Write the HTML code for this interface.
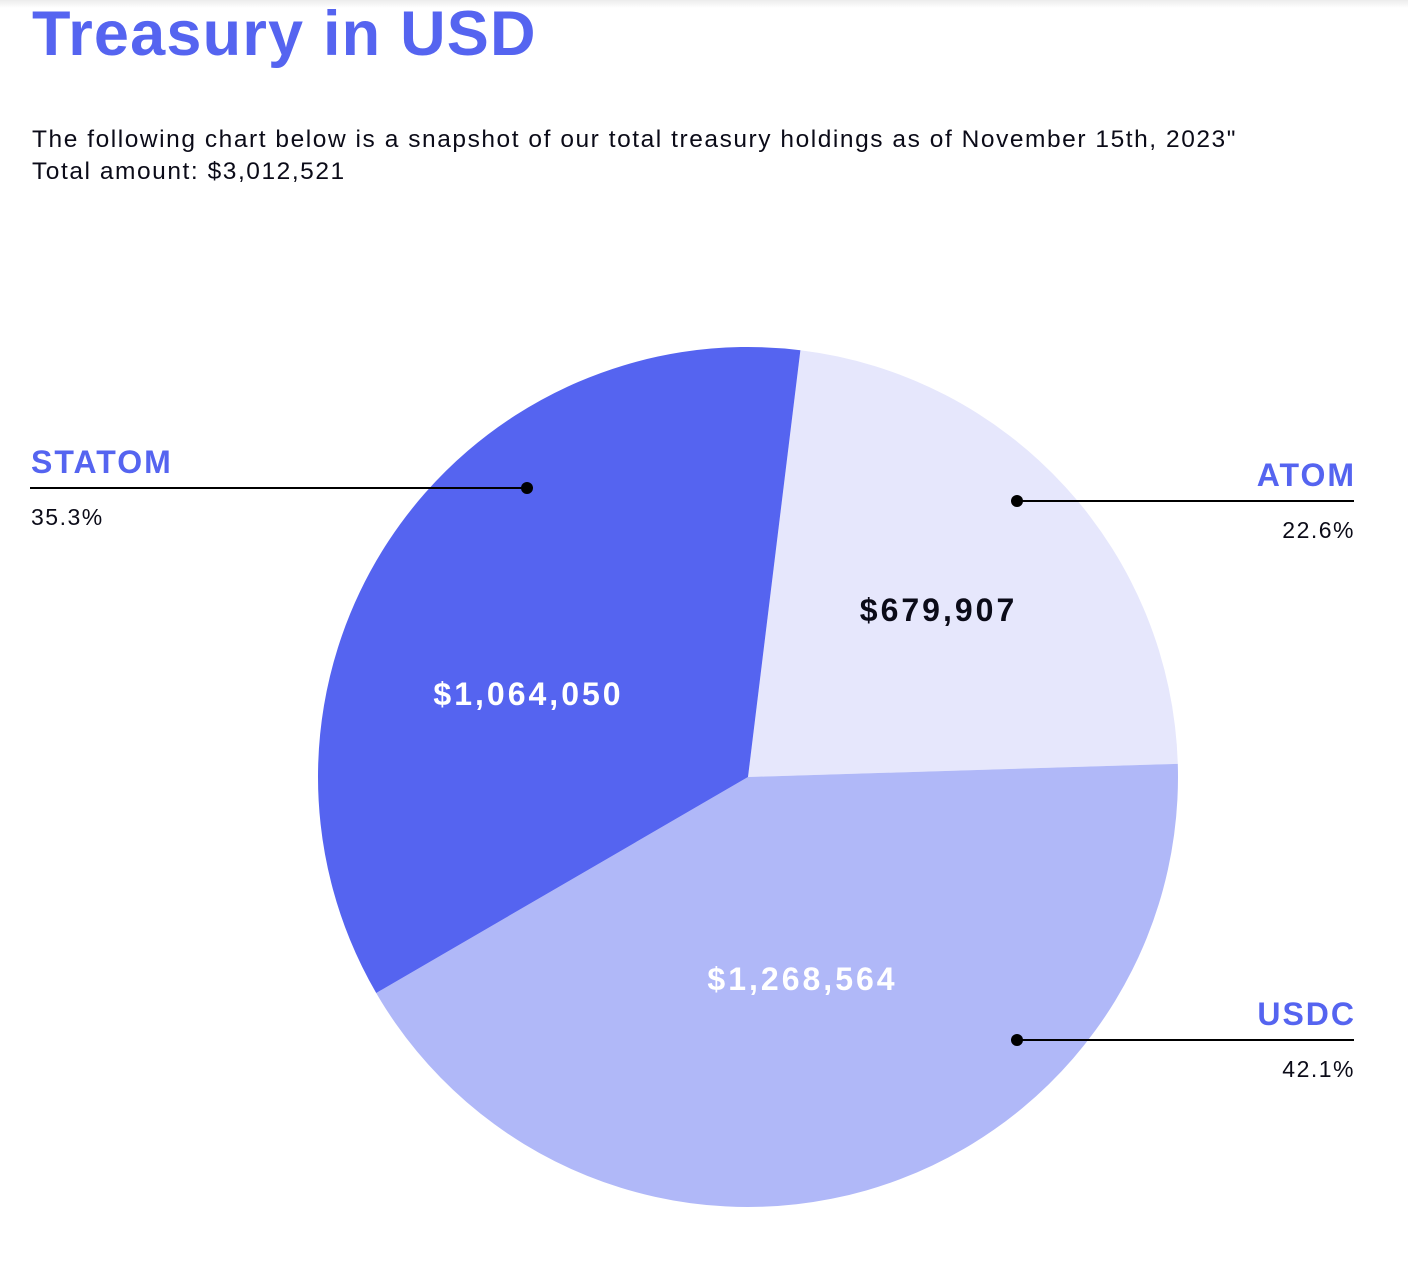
<!DOCTYPE html>
<html><head><meta charset="utf-8"><style>
html,body{margin:0;padding:0;background:#fff;width:1408px;height:1276px;overflow:hidden;font-family:"Liberation Sans",sans-serif}
.topshadow{position:absolute;left:0;top:0;width:1408px;height:8px;background:linear-gradient(#ececec,#fff)}
h1{position:absolute;left:32px;top:-2px;margin:0;font-size:63px;font-weight:bold;color:#5564F0;letter-spacing:1.2px}
.sub{position:absolute;left:32px;top:124px;font-size:24.5px;line-height:32px;color:#0b0b18;letter-spacing:1.55px}
svg{position:absolute;left:0;top:0}
</style></head><body>
<div class="topshadow"></div>
<h1>Treasury in USD</h1>
<div class="sub">The following chart below is a snapshot of our total treasury holdings as of November 15th, 2023"<br>Total amount: $3,012,521</div>
<svg id="chart" width="1408" height="1276"></svg>
<script>
const categories = ["ATOM","USDC","STATOM"];
const values = [679907,1268564,1064050];
const valueLabels = ["$679,907","$1,268,564","$1,064,050"];
const percentLabels = ["22.6%","42.1%","35.3%"];
const colors = ["#E6E7FC","#B0B8F8","#5564F0"];
const labelColors = ["#0b0b18","#ffffff","#ffffff"];
const valuePos = [[937,610],[801,979],[527,694]];
const leaders = [{y:501,dot:1017,x1:1017,x2:1354,side:"right"},{y:1040,dot:1017,x1:1017,x2:1354,side:"right"},{y:488,dot:527,x1:30,x2:527,side:"left"}];
const NS="http://www.w3.org/2000/svg";
const svg=document.getElementById('chart');
const cx=748,cy=777,r=430,startDeg=7;
const total=values.reduce((a,b)=>a+b,0);
function pt(deg,rad){const a=deg*Math.PI/180;return [cx+rad*Math.sin(a),cy-rad*Math.cos(a)];}
let acc=startDeg;
values.forEach((v,i)=>{
  const sweep=v/total*360;
  const [x0,y0]=pt(acc,r),[x1,y1]=pt(acc+sweep,r);
  const p=document.createElementNS(NS,'path');
  p.setAttribute('d',`M${cx},${cy}L${x0},${y0}A${r},${r} 0 ${sweep>180?1:0} 1 ${x1},${y1}Z`);
  p.setAttribute('fill',colors[i]);
  
  
  svg.appendChild(p);
  acc+=sweep;
});
values.forEach((v,i)=>{
  const t=document.createElementNS(NS,'text');
  t.setAttribute('x',valuePos[i][0]+1.5);t.setAttribute('y',valuePos[i][1]+11);
  t.setAttribute('text-anchor','middle');t.setAttribute('font-size','32');t.setAttribute('font-weight','bold');
  t.setAttribute('letter-spacing','3');
  t.setAttribute('fill',labelColors[i]);t.textContent=valueLabels[i];
  
  
  svg.appendChild(t);
  const L=leaders[i];
  const ln=document.createElementNS(NS,'line');
  ln.setAttribute('x1',L.x1);ln.setAttribute('x2',L.x2);ln.setAttribute('y1',L.y);ln.setAttribute('y2',L.y);
  ln.setAttribute('stroke','#000');ln.setAttribute('stroke-width','2');
  
  
  svg.appendChild(ln);
  const c=document.createElementNS(NS,'circle');
  c.setAttribute('cx',L.dot);c.setAttribute('cy',L.y);c.setAttribute('r','6');c.setAttribute('fill','#000');
  
  
  svg.appendChild(c);
  const right=L.side==="right";
  const n=document.createElementNS(NS,'text');
  n.setAttribute('x',right?1356:31);n.setAttribute('y',L.y-15);n.setAttribute('text-anchor',right?"end":"start");
  n.setAttribute('font-size','32');n.setAttribute('font-weight','bold');n.setAttribute('fill','#5564F0');
  n.setAttribute('letter-spacing','2');
  n.textContent=categories[i];
  
  
  svg.appendChild(n);
  const pc=document.createElementNS(NS,'text');
  pc.setAttribute('x',right?1355:31);pc.setAttribute('y',L.y+37);pc.setAttribute('text-anchor',right?"end":"start");
  pc.setAttribute('font-size','23');pc.setAttribute('fill','#0b0b18');
  pc.setAttribute('letter-spacing','1.5');
  pc.textContent=percentLabels[i];
  
  
  svg.appendChild(pc);
});
</script>
</body></html>
